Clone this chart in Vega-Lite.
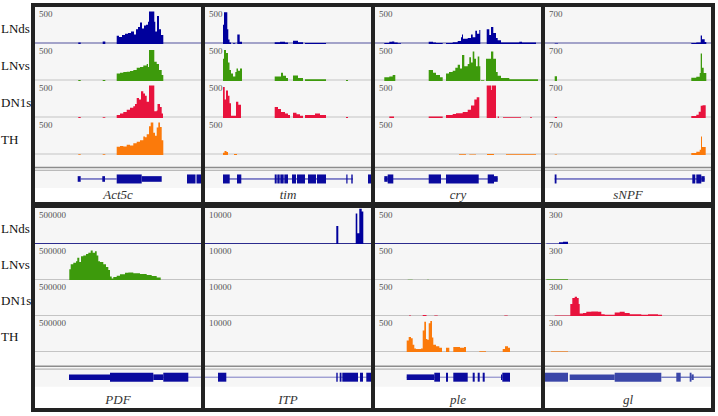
{
"$schema": "https://vega.github.io/schema/vega-lite/v6.json",
"padding": {"left": 1, "top": 3, "right": 0, "bottom": 0},
"background": "white",
"config": {"view": {"stroke": null, "fill": "#f6f6f6"}, "axis": {"disable": true}, "font": "Liberation Serif"},
"datasets": {
"cov": [
{"gene":"Act5c","track":"LNds","range":500},{"gene":"Act5c","track":"LNvs","range":500},{"gene":"Act5c","track":"DN1s","range":500},{"gene":"Act5c","track":"TH","range":500},
{"gene":"tim","track":"LNds","range":500},{"gene":"tim","track":"LNvs","range":500},{"gene":"tim","track":"DN1s","range":500},{"gene":"tim","track":"TH","range":500},
{"gene":"cry","track":"LNds","range":500},{"gene":"cry","track":"LNvs","range":500},{"gene":"cry","track":"DN1s","range":500},{"gene":"cry","track":"TH","range":500},
{"gene":"sNPF","track":"LNds","range":700},{"gene":"sNPF","track":"LNvs","range":700},{"gene":"sNPF","track":"DN1s","range":700},{"gene":"sNPF","track":"TH","range":700},
{"gene":"PDF","track":"LNds","range":500000},{"gene":"PDF","track":"LNvs","range":500000},{"gene":"PDF","track":"DN1s","range":500000},{"gene":"PDF","track":"TH","range":500000},
{"gene":"ITP","track":"LNds","range":10000},{"gene":"ITP","track":"LNvs","range":10000},{"gene":"ITP","track":"DN1s","range":10000},{"gene":"ITP","track":"TH","range":10000},
{"gene":"ple","track":"LNds","range":500},{"gene":"ple","track":"LNvs","range":500},{"gene":"ple","track":"DN1s","range":500},{"gene":"ple","track":"TH","range":500},
{"gene":"gl","track":"LNds","range":300},{"gene":"gl","track":"LNvs","range":300},{"gene":"gl","track":"DN1s","range":300},{"gene":"gl","track":"TH","range":300},

{"gene":"Act5c","track":"LNds","pos":43.3,"value":20},{"gene":"Act5c","track":"LNds","pos":45.7,"value":0},{"gene":"Act5c","track":"LNds","pos":67.7,"value":35},{"gene":"Act5c","track":"LNds","pos":70.3,"value":0},{"gene":"Act5c","track":"LNds","pos":81.7,"value":110},{"gene":"Act5c","track":"LNds","pos":84,"value":95},{"gene":"Act5c","track":"LNds","pos":87,"value":120},{"gene":"Act5c","track":"LNds","pos":90,"value":140},{"gene":"Act5c","track":"LNds","pos":93,"value":150},{"gene":"Act5c","track":"LNds","pos":96,"value":170},{"gene":"Act5c","track":"LNds","pos":99,"value":130},{"gene":"Act5c","track":"LNds","pos":101,"value":200},{"gene":"Act5c","track":"LNds","pos":103,"value":230},{"gene":"Act5c","track":"LNds","pos":105,"value":290},{"gene":"Act5c","track":"LNds","pos":107,"value":210},{"gene":"Act5c","track":"LNds","pos":109,"value":250},{"gene":"Act5c","track":"LNds","pos":111,"value":260},{"gene":"Act5c","track":"LNds","pos":113,"value":300},{"gene":"Act5c","track":"LNds","pos":114,"value":440},{"gene":"Act5c","track":"LNds","pos":119.3,"value":300},{"gene":"Act5c","track":"LNds","pos":120.3,"value":170},{"gene":"Act5c","track":"LNds","pos":122,"value":380},{"gene":"Act5c","track":"LNds","pos":124,"value":200},{"gene":"Act5c","track":"LNds","pos":126,"value":120},{"gene":"Act5c","track":"LNds","pos":128.3,"value":0},

{"gene":"Act5c","track":"LNvs","pos":43.3,"value":15},{"gene":"Act5c","track":"LNvs","pos":45.7,"value":0},{"gene":"Act5c","track":"LNvs","pos":67.7,"value":15},{"gene":"Act5c","track":"LNvs","pos":70.3,"value":0},{"gene":"Act5c","track":"LNvs","pos":81.7,"value":100},{"gene":"Act5c","track":"LNvs","pos":85,"value":110},{"gene":"Act5c","track":"LNvs","pos":88.3,"value":120},{"gene":"Act5c","track":"LNvs","pos":91.7,"value":125},{"gene":"Act5c","track":"LNvs","pos":95,"value":135},{"gene":"Act5c","track":"LNvs","pos":98.3,"value":150},{"gene":"Act5c","track":"LNvs","pos":101.7,"value":180},{"gene":"Act5c","track":"LNvs","pos":105,"value":190},{"gene":"Act5c","track":"LNvs","pos":108.3,"value":210},{"gene":"Act5c","track":"LNvs","pos":111.7,"value":230},{"gene":"Act5c","track":"LNvs","pos":113,"value":190},{"gene":"Act5c","track":"LNvs","pos":114,"value":420},{"gene":"Act5c","track":"LNvs","pos":119.3,"value":260},{"gene":"Act5c","track":"LNvs","pos":121.7,"value":230},{"gene":"Act5c","track":"LNvs","pos":124,"value":150},{"gene":"Act5c","track":"LNvs","pos":126.7,"value":80},{"gene":"Act5c","track":"LNvs","pos":128.3,"value":0},

{"gene":"Act5c","track":"DN1s","pos":43.3,"value":15},{"gene":"Act5c","track":"DN1s","pos":45.7,"value":0},{"gene":"Act5c","track":"DN1s","pos":67.7,"value":10},{"gene":"Act5c","track":"DN1s","pos":70.3,"value":0},{"gene":"Act5c","track":"DN1s","pos":81.7,"value":40},{"gene":"Act5c","track":"DN1s","pos":85,"value":60},{"gene":"Act5c","track":"DN1s","pos":88.3,"value":80},{"gene":"Act5c","track":"DN1s","pos":91.7,"value":110},{"gene":"Act5c","track":"DN1s","pos":95,"value":140},{"gene":"Act5c","track":"DN1s","pos":98.3,"value":160},{"gene":"Act5c","track":"DN1s","pos":100,"value":190},{"gene":"Act5c","track":"DN1s","pos":101.7,"value":270},{"gene":"Act5c","track":"DN1s","pos":104,"value":250},{"gene":"Act5c","track":"DN1s","pos":106,"value":360},{"gene":"Act5c","track":"DN1s","pos":108.3,"value":330},{"gene":"Act5c","track":"DN1s","pos":110,"value":300},{"gene":"Act5c","track":"DN1s","pos":111.7,"value":220},{"gene":"Act5c","track":"DN1s","pos":114,"value":440},{"gene":"Act5c","track":"DN1s","pos":119.3,"value":90},{"gene":"Act5c","track":"DN1s","pos":121.7,"value":100},{"gene":"Act5c","track":"DN1s","pos":122.5,"value":190},{"gene":"Act5c","track":"DN1s","pos":125,"value":150},{"gene":"Act5c","track":"DN1s","pos":126.7,"value":60},{"gene":"Act5c","track":"DN1s","pos":128,"value":0},

{"gene":"Act5c","track":"TH","pos":43.3,"value":10},{"gene":"Act5c","track":"TH","pos":45.7,"value":0},{"gene":"Act5c","track":"TH","pos":67.7,"value":10},{"gene":"Act5c","track":"TH","pos":70.3,"value":0},{"gene":"Act5c","track":"TH","pos":81.7,"value":110},{"gene":"Act5c","track":"TH","pos":85,"value":120},{"gene":"Act5c","track":"TH","pos":88.3,"value":115},{"gene":"Act5c","track":"TH","pos":91.7,"value":140},{"gene":"Act5c","track":"TH","pos":95,"value":130},{"gene":"Act5c","track":"TH","pos":98.3,"value":160},{"gene":"Act5c","track":"TH","pos":101.7,"value":180},{"gene":"Act5c","track":"TH","pos":105,"value":200},{"gene":"Act5c","track":"TH","pos":108.3,"value":250},{"gene":"Act5c","track":"TH","pos":110,"value":240},{"gene":"Act5c","track":"TH","pos":111.7,"value":280},{"gene":"Act5c","track":"TH","pos":114,"value":390},{"gene":"Act5c","track":"TH","pos":115.7,"value":440},{"gene":"Act5c","track":"TH","pos":118.3,"value":300},{"gene":"Act5c","track":"TH","pos":120,"value":260},{"gene":"Act5c","track":"TH","pos":121.7,"value":370},{"gene":"Act5c","track":"TH","pos":123.3,"value":440},{"gene":"Act5c","track":"TH","pos":125,"value":380},{"gene":"Act5c","track":"TH","pos":126.7,"value":200},{"gene":"Act5c","track":"TH","pos":128.3,"value":0},

{"gene":"tim","track":"LNds","pos":18,"value":260},{"gene":"tim","track":"LNds","pos":19,"value":430},{"gene":"tim","track":"LNds","pos":22.3,"value":200},{"gene":"tim","track":"LNds","pos":23.3,"value":60},{"gene":"tim","track":"LNds","pos":24.5,"value":20},{"gene":"tim","track":"LNds","pos":26,"value":0},{"gene":"tim","track":"LNds","pos":28,"value":10},{"gene":"tim","track":"LNds","pos":30.3,"value":0},{"gene":"tim","track":"LNds","pos":32.3,"value":130},{"gene":"tim","track":"LNds","pos":34.7,"value":30},{"gene":"tim","track":"LNds","pos":37,"value":0},{"gene":"tim","track":"LNds","pos":69.7,"value":25},{"gene":"tim","track":"LNds","pos":75,"value":30},{"gene":"tim","track":"LNds","pos":80,"value":20},{"gene":"tim","track":"LNds","pos":83,"value":0},{"gene":"tim","track":"LNds","pos":88,"value":45},{"gene":"tim","track":"LNds","pos":93,"value":25},{"gene":"tim","track":"LNds","pos":98,"value":0},{"gene":"tim","track":"LNds","pos":100,"value":12},{"gene":"tim","track":"LNds","pos":121,"value":0},

{"gene":"tim","track":"LNvs","pos":18,"value":300},{"gene":"tim","track":"LNvs","pos":19,"value":420},{"gene":"tim","track":"LNvs","pos":21,"value":380},{"gene":"tim","track":"LNvs","pos":23,"value":250},{"gene":"tim","track":"LNvs","pos":24.5,"value":150},{"gene":"tim","track":"LNvs","pos":26,"value":100},{"gene":"tim","track":"LNvs","pos":28,"value":60},{"gene":"tim","track":"LNvs","pos":30.3,"value":120},{"gene":"tim","track":"LNvs","pos":31.5,"value":170},{"gene":"tim","track":"LNvs","pos":33,"value":140},{"gene":"tim","track":"LNvs","pos":35,"value":170},{"gene":"tim","track":"LNvs","pos":37,"value":0},{"gene":"tim","track":"LNvs","pos":69.7,"value":60},{"gene":"tim","track":"LNvs","pos":76,"value":110},{"gene":"tim","track":"LNvs","pos":78,"value":70},{"gene":"tim","track":"LNvs","pos":81,"value":40},{"gene":"tim","track":"LNvs","pos":83,"value":0},{"gene":"tim","track":"LNvs","pos":88,"value":75},{"gene":"tim","track":"LNvs","pos":93,"value":40},{"gene":"tim","track":"LNvs","pos":98,"value":0},{"gene":"tim","track":"LNvs","pos":100,"value":25},{"gene":"tim","track":"LNvs","pos":121,"value":0},{"gene":"tim","track":"LNvs","pos":141,"value":15},{"gene":"tim","track":"LNvs","pos":143,"value":0},

{"gene":"tim","track":"DN1s","pos":18,"value":420},{"gene":"tim","track":"DN1s","pos":19.7,"value":250},{"gene":"tim","track":"DN1s","pos":21,"value":370},{"gene":"tim","track":"DN1s","pos":23,"value":300},{"gene":"tim","track":"DN1s","pos":24.5,"value":200},{"gene":"tim","track":"DN1s","pos":26,"value":30},{"gene":"tim","track":"DN1s","pos":31,"value":220},{"gene":"tim","track":"DN1s","pos":33.3,"value":180},{"gene":"tim","track":"DN1s","pos":36,"value":0},{"gene":"tim","track":"DN1s","pos":69.7,"value":150},{"gene":"tim","track":"DN1s","pos":73,"value":120},{"gene":"tim","track":"DN1s","pos":76,"value":80},{"gene":"tim","track":"DN1s","pos":80,"value":60},{"gene":"tim","track":"DN1s","pos":83,"value":40},{"gene":"tim","track":"DN1s","pos":85,"value":0},{"gene":"tim","track":"DN1s","pos":88,"value":70},{"gene":"tim","track":"DN1s","pos":91.5,"value":50},{"gene":"tim","track":"DN1s","pos":95,"value":30},{"gene":"tim","track":"DN1s","pos":98,"value":0},{"gene":"tim","track":"DN1s","pos":100,"value":40},{"gene":"tim","track":"DN1s","pos":110,"value":60},{"gene":"tim","track":"DN1s","pos":115,"value":40},{"gene":"tim","track":"DN1s","pos":121,"value":0},{"gene":"tim","track":"DN1s","pos":141,"value":15},{"gene":"tim","track":"DN1s","pos":143,"value":0},

{"gene":"tim","track":"TH","pos":18,"value":30},{"gene":"tim","track":"TH","pos":19.5,"value":55},{"gene":"tim","track":"TH","pos":21.5,"value":40},{"gene":"tim","track":"TH","pos":23,"value":0},{"gene":"tim","track":"TH","pos":29,"value":12},{"gene":"tim","track":"TH","pos":32,"value":0},

{"gene":"cry","track":"LNds","pos":9.3,"value":15},{"gene":"cry","track":"LNds","pos":14.3,"value":30},{"gene":"cry","track":"LNds","pos":17,"value":35},{"gene":"cry","track":"LNds","pos":19.3,"value":20},{"gene":"cry","track":"LNds","pos":22.7,"value":10},{"gene":"cry","track":"LNds","pos":26,"value":0},{"gene":"cry","track":"LNds","pos":53.7,"value":30},{"gene":"cry","track":"LNds","pos":58,"value":20},{"gene":"cry","track":"LNds","pos":61,"value":15},{"gene":"cry","track":"LNds","pos":67.7,"value":0},{"gene":"cry","track":"LNds","pos":71,"value":15},{"gene":"cry","track":"LNds","pos":77.7,"value":25},{"gene":"cry","track":"LNds","pos":82.7,"value":40},{"gene":"cry","track":"LNds","pos":86,"value":90},{"gene":"cry","track":"LNds","pos":87,"value":130},{"gene":"cry","track":"LNds","pos":88,"value":70},{"gene":"cry","track":"LNds","pos":92.7,"value":80},{"gene":"cry","track":"LNds","pos":96,"value":130},{"gene":"cry","track":"LNds","pos":97.7,"value":90},{"gene":"cry","track":"LNds","pos":100.3,"value":180},{"gene":"cry","track":"LNds","pos":102,"value":140},{"gene":"cry","track":"LNds","pos":104.3,"value":190},{"gene":"cry","track":"LNds","pos":105.3,"value":0},{"gene":"cry","track":"LNds","pos":111.7,"value":200},{"gene":"cry","track":"LNds","pos":114.3,"value":120},{"gene":"cry","track":"LNds","pos":116,"value":230},{"gene":"cry","track":"LNds","pos":118.3,"value":150},{"gene":"cry","track":"LNds","pos":121,"value":80},{"gene":"cry","track":"LNds","pos":122.7,"value":50},{"gene":"cry","track":"LNds","pos":126,"value":20},{"gene":"cry","track":"LNds","pos":144.3,"value":30},{"gene":"cry","track":"LNds","pos":147,"value":20},{"gene":"cry","track":"LNds","pos":161,"value":0},

{"gene":"cry","track":"LNvs","pos":9.3,"value":50},{"gene":"cry","track":"LNvs","pos":14.3,"value":60},{"gene":"cry","track":"LNvs","pos":17.7,"value":80},{"gene":"cry","track":"LNvs","pos":20.3,"value":0},{"gene":"cry","track":"LNvs","pos":53.7,"value":150},{"gene":"cry","track":"LNvs","pos":58,"value":110},{"gene":"cry","track":"LNvs","pos":61,"value":80},{"gene":"cry","track":"LNvs","pos":65,"value":50},{"gene":"cry","track":"LNvs","pos":67.7,"value":0},{"gene":"cry","track":"LNvs","pos":71,"value":100},{"gene":"cry","track":"LNvs","pos":74,"value":120},{"gene":"cry","track":"LNvs","pos":77.7,"value":140},{"gene":"cry","track":"LNvs","pos":80.3,"value":180},{"gene":"cry","track":"LNvs","pos":82.7,"value":220},{"gene":"cry","track":"LNvs","pos":85,"value":170},{"gene":"cry","track":"LNvs","pos":87,"value":350},{"gene":"cry","track":"LNvs","pos":89.3,"value":200},{"gene":"cry","track":"LNvs","pos":92.7,"value":230},{"gene":"cry","track":"LNvs","pos":94.3,"value":320},{"gene":"cry","track":"LNvs","pos":96,"value":250},{"gene":"cry","track":"LNvs","pos":97.7,"value":400},{"gene":"cry","track":"LNvs","pos":99.3,"value":300},{"gene":"cry","track":"LNvs","pos":101,"value":200},{"gene":"cry","track":"LNvs","pos":102.7,"value":330},{"gene":"cry","track":"LNvs","pos":104.3,"value":200},{"gene":"cry","track":"LNvs","pos":105.3,"value":0},{"gene":"cry","track":"LNvs","pos":106,"value":10},{"gene":"cry","track":"LNvs","pos":109.3,"value":0},{"gene":"cry","track":"LNvs","pos":111,"value":300},{"gene":"cry","track":"LNvs","pos":113.7,"value":300},{"gene":"cry","track":"LNvs","pos":116,"value":400},{"gene":"cry","track":"LNvs","pos":118.3,"value":300},{"gene":"cry","track":"LNvs","pos":121,"value":120},{"gene":"cry","track":"LNvs","pos":122.7,"value":70},{"gene":"cry","track":"LNvs","pos":126,"value":40},{"gene":"cry","track":"LNvs","pos":134.3,"value":25},{"gene":"cry","track":"LNvs","pos":163,"value":0},

{"gene":"cry","track":"DN1s","pos":14.3,"value":20},{"gene":"cry","track":"DN1s","pos":19,"value":0},{"gene":"cry","track":"DN1s","pos":53.7,"value":20},{"gene":"cry","track":"DN1s","pos":67.7,"value":0},{"gene":"cry","track":"DN1s","pos":71,"value":40},{"gene":"cry","track":"DN1s","pos":77.7,"value":55},{"gene":"cry","track":"DN1s","pos":81,"value":65},{"gene":"cry","track":"DN1s","pos":87.7,"value":80},{"gene":"cry","track":"DN1s","pos":92.7,"value":110},{"gene":"cry","track":"DN1s","pos":96,"value":170},{"gene":"cry","track":"DN1s","pos":99.3,"value":250},{"gene":"cry","track":"DN1s","pos":101.7,"value":280},{"gene":"cry","track":"DN1s","pos":104.3,"value":0},{"gene":"cry","track":"DN1s","pos":111.7,"value":440},{"gene":"cry","track":"DN1s","pos":116,"value":380},{"gene":"cry","track":"DN1s","pos":116.7,"value":440},{"gene":"cry","track":"DN1s","pos":121,"value":0},{"gene":"cry","track":"DN1s","pos":122.7,"value":20},{"gene":"cry","track":"DN1s","pos":124,"value":0},{"gene":"cry","track":"DN1s","pos":128,"value":10},{"gene":"cry","track":"DN1s","pos":146,"value":0},{"gene":"cry","track":"DN1s","pos":155,"value":10},{"gene":"cry","track":"DN1s","pos":157,"value":0},

{"gene":"cry","track":"TH","pos":84,"value":10},{"gene":"cry","track":"TH","pos":91,"value":0},{"gene":"cry","track":"TH","pos":94.3,"value":8},{"gene":"cry","track":"TH","pos":101,"value":0},{"gene":"cry","track":"TH","pos":112,"value":12},{"gene":"cry","track":"TH","pos":119,"value":0},{"gene":"cry","track":"TH","pos":131,"value":10},{"gene":"cry","track":"TH","pos":161,"value":0},

{"gene":"sNPF","track":"LNds","pos":9.7,"value":10},{"gene":"sNPF","track":"LNds","pos":13,"value":0},{"gene":"sNPF","track":"LNds","pos":146.3,"value":20},{"gene":"sNPF","track":"LNds","pos":151.3,"value":30},{"gene":"sNPF","track":"LNds","pos":155.7,"value":160},{"gene":"sNPF","track":"LNds","pos":157,"value":90},{"gene":"sNPF","track":"LNds","pos":159.7,"value":40},{"gene":"sNPF","track":"LNds","pos":161.3,"value":0},
{"gene":"sNPF","track":"LNvs","pos":9.7,"value":90},{"gene":"sNPF","track":"LNvs","pos":12,"value":0},{"gene":"sNPF","track":"LNvs","pos":146.3,"value":60},{"gene":"sNPF","track":"LNvs","pos":151.3,"value":80},{"gene":"sNPF","track":"LNvs","pos":154.7,"value":150},{"gene":"sNPF","track":"LNvs","pos":155.7,"value":520},{"gene":"sNPF","track":"LNvs","pos":157,"value":250},{"gene":"sNPF","track":"LNvs","pos":158.7,"value":150},{"gene":"sNPF","track":"LNvs","pos":161.3,"value":0},
{"gene":"sNPF","track":"DN1s","pos":9.7,"value":20},{"gene":"sNPF","track":"DN1s","pos":12,"value":0},{"gene":"sNPF","track":"DN1s","pos":146.3,"value":40},{"gene":"sNPF","track":"DN1s","pos":151.3,"value":60},{"gene":"sNPF","track":"DN1s","pos":153.7,"value":120},{"gene":"sNPF","track":"DN1s","pos":155.7,"value":230},{"gene":"sNPF","track":"DN1s","pos":157.5,"value":240},{"gene":"sNPF","track":"DN1s","pos":160.7,"value":0},
{"gene":"sNPF","track":"TH","pos":9.7,"value":8},{"gene":"sNPF","track":"TH","pos":12,"value":0},{"gene":"sNPF","track":"TH","pos":146.3,"value":40},{"gene":"sNPF","track":"TH","pos":151.3,"value":60},{"gene":"sNPF","track":"TH","pos":154.7,"value":100},{"gene":"sNPF","track":"TH","pos":156,"value":350},{"gene":"sNPF","track":"TH","pos":157,"value":150},{"gene":"sNPF","track":"TH","pos":160.7,"value":0},

{"gene":"PDF","track":"LNvs","pos":34.3,"value":150000},{"gene":"PDF","track":"LNvs","pos":35.7,"value":220000},{"gene":"PDF","track":"LNvs","pos":38.3,"value":240000},{"gene":"PDF","track":"LNvs","pos":41,"value":260000},{"gene":"PDF","track":"LNvs","pos":42.3,"value":310000},{"gene":"PDF","track":"LNvs","pos":44.3,"value":250000},{"gene":"PDF","track":"LNvs","pos":46,"value":330000},{"gene":"PDF","track":"LNvs","pos":48.3,"value":340000},{"gene":"PDF","track":"LNvs","pos":51,"value":360000},{"gene":"PDF","track":"LNvs","pos":53.3,"value":380000},{"gene":"PDF","track":"LNvs","pos":55.7,"value":410000},{"gene":"PDF","track":"LNvs","pos":57.7,"value":380000},{"gene":"PDF","track":"LNvs","pos":60,"value":400000},{"gene":"PDF","track":"LNvs","pos":61.7,"value":340000},{"gene":"PDF","track":"LNvs","pos":63.3,"value":260000},{"gene":"PDF","track":"LNvs","pos":65,"value":250000},{"gene":"PDF","track":"LNvs","pos":68.3,"value":220000},{"gene":"PDF","track":"LNvs","pos":71,"value":180000},{"gene":"PDF","track":"LNvs","pos":73.3,"value":140000},{"gene":"PDF","track":"LNvs","pos":75,"value":50000},{"gene":"PDF","track":"LNvs","pos":76.7,"value":20000},{"gene":"PDF","track":"LNvs","pos":78.3,"value":40000},{"gene":"PDF","track":"LNvs","pos":81.7,"value":60000},{"gene":"PDF","track":"LNvs","pos":85,"value":80000},{"gene":"PDF","track":"LNvs","pos":90,"value":100000},{"gene":"PDF","track":"LNvs","pos":93.3,"value":105000},{"gene":"PDF","track":"LNvs","pos":98.3,"value":95000},{"gene":"PDF","track":"LNvs","pos":105,"value":85000},{"gene":"PDF","track":"LNvs","pos":111.7,"value":70000},{"gene":"PDF","track":"LNvs","pos":116.7,"value":55000},{"gene":"PDF","track":"LNvs","pos":121.7,"value":35000},{"gene":"PDF","track":"LNvs","pos":125.7,"value":0},

{"gene":"ITP","track":"LNds","pos":131.3,"value":5000},{"gene":"ITP","track":"LNds","pos":133.3,"value":0},{"gene":"ITP","track":"LNds","pos":150.7,"value":8500},{"gene":"ITP","track":"LNds","pos":152.3,"value":3000},{"gene":"ITP","track":"LNds","pos":154.3,"value":9800},{"gene":"ITP","track":"LNds","pos":156.7,"value":9000},{"gene":"ITP","track":"LNds","pos":158.3,"value":0},

{"gene":"ple","track":"LNvs","pos":32.7,"value":5},{"gene":"ple","track":"LNvs","pos":37.7,"value":0},{"gene":"ple","track":"LNvs","pos":52,"value":4},{"gene":"ple","track":"LNvs","pos":54,"value":0},
{"gene":"ple","track":"DN1s","pos":34,"value":6},{"gene":"ple","track":"DN1s","pos":36,"value":0},{"gene":"ple","track":"DN1s","pos":47.7,"value":15},{"gene":"ple","track":"DN1s","pos":51,"value":8},{"gene":"ple","track":"DN1s","pos":52,"value":0},{"gene":"ple","track":"DN1s","pos":59.3,"value":6},{"gene":"ple","track":"DN1s","pos":62.7,"value":0},{"gene":"ple","track":"DN1s","pos":129.3,"value":8},{"gene":"ple","track":"DN1s","pos":132.7,"value":0},
{"gene":"ple","track":"TH","pos":31.7,"value":160},{"gene":"ple","track":"TH","pos":33.7,"value":210},{"gene":"ple","track":"TH","pos":36,"value":190},{"gene":"ple","track":"TH","pos":37.7,"value":100},{"gene":"ple","track":"TH","pos":39.3,"value":50},{"gene":"ple","track":"TH","pos":41,"value":40},{"gene":"ple","track":"TH","pos":46,"value":50},{"gene":"ple","track":"TH","pos":47.7,"value":300},{"gene":"ple","track":"TH","pos":49.3,"value":420},{"gene":"ple","track":"TH","pos":51,"value":180},{"gene":"ple","track":"TH","pos":52.3,"value":170},{"gene":"ple","track":"TH","pos":53.7,"value":400},{"gene":"ple","track":"TH","pos":55.3,"value":430},{"gene":"ple","track":"TH","pos":57,"value":200},{"gene":"ple","track":"TH","pos":58.3,"value":100},{"gene":"ple","track":"TH","pos":61,"value":80},{"gene":"ple","track":"TH","pos":64.3,"value":60},{"gene":"ple","track":"TH","pos":67,"value":0},{"gene":"ple","track":"TH","pos":71,"value":60},{"gene":"ple","track":"TH","pos":74.3,"value":0},{"gene":"ple","track":"TH","pos":78.3,"value":70},{"gene":"ple","track":"TH","pos":85,"value":60},{"gene":"ple","track":"TH","pos":89,"value":70},{"gene":"ple","track":"TH","pos":91,"value":0},{"gene":"ple","track":"TH","pos":104.3,"value":10},{"gene":"ple","track":"TH","pos":111,"value":0},{"gene":"ple","track":"TH","pos":127.7,"value":40},{"gene":"ple","track":"TH","pos":130,"value":80},{"gene":"ple","track":"TH","pos":133,"value":60},{"gene":"ple","track":"TH","pos":135,"value":0},

{"gene":"gl","track":"LNds","pos":1.3,"value":4},{"gene":"gl","track":"LNds","pos":14,"value":15},{"gene":"gl","track":"LNds","pos":18,"value":18},{"gene":"gl","track":"LNds","pos":23,"value":0},
{"gene":"gl","track":"LNvs","pos":1.3,"value":6},{"gene":"gl","track":"LNvs","pos":23,"value":0},
{"gene":"gl","track":"DN1s","pos":9.7,"value":5},{"gene":"gl","track":"DN1s","pos":25.3,"value":100},{"gene":"gl","track":"DN1s","pos":27.3,"value":150},{"gene":"gl","track":"DN1s","pos":29.7,"value":160},{"gene":"gl","track":"DN1s","pos":32,"value":150},{"gene":"gl","track":"DN1s","pos":33.7,"value":100},{"gene":"gl","track":"DN1s","pos":34.7,"value":20},{"gene":"gl","track":"DN1s","pos":38,"value":25},{"gene":"gl","track":"DN1s","pos":41.3,"value":35},{"gene":"gl","track":"DN1s","pos":46.3,"value":38},{"gene":"gl","track":"DN1s","pos":53,"value":35},{"gene":"gl","track":"DN1s","pos":56.3,"value":15},{"gene":"gl","track":"DN1s","pos":59.7,"value":10},{"gene":"gl","track":"DN1s","pos":68,"value":10},{"gene":"gl","track":"DN1s","pos":69.7,"value":30},{"gene":"gl","track":"DN1s","pos":74.7,"value":35},{"gene":"gl","track":"DN1s","pos":79.7,"value":25},{"gene":"gl","track":"DN1s","pos":84.7,"value":15},{"gene":"gl","track":"DN1s","pos":96.3,"value":10},{"gene":"gl","track":"DN1s","pos":103,"value":15},{"gene":"gl","track":"DN1s","pos":113,"value":10},{"gene":"gl","track":"DN1s","pos":117,"value":0},
{"gene":"gl","track":"TH","pos":6,"value":5},{"gene":"gl","track":"TH","pos":23,"value":0}
],
"model": [
{"gene":"Act5c","kind":"label"},{"gene":"tim","kind":"label"},{"gene":"cry","kind":"label"},{"gene":"sNPF","kind":"label"},{"gene":"PDF","kind":"label"},{"gene":"ITP","kind":"label"},{"gene":"ple","kind":"label"},{"gene":"gl","kind":"label"},
{"gene":"Act5c","kind":"utr","start":42.7,"end":45.7},{"gene":"Act5c","kind":"intron","start":45.7,"end":81.7},{"gene":"Act5c","kind":"utr","start":67.3,"end":70},{"gene":"Act5c","kind":"exon","start":81.7,"end":106.7},{"gene":"Act5c","kind":"utr","start":106.7,"end":126.7},{"gene":"Act5c","kind":"exon","start":152,"end":160.5},{"gene":"Act5c","kind":"exon","start":161.5,"end":166},
{"gene":"tim","kind":"intron","start":18,"end":148},{"gene":"tim","kind":"exon","start":18,"end":24.7},{"gene":"tim","kind":"exon","start":32,"end":36.3},{"gene":"tim","kind":"exon","start":69.7,"end":71.7},{"gene":"tim","kind":"exon","start":72.3,"end":74.7},{"gene":"tim","kind":"exon","start":75.3,"end":78.7},{"gene":"tim","kind":"exon","start":79.3,"end":83},{"gene":"tim","kind":"exon","start":87,"end":91},{"gene":"tim","kind":"exon","start":92,"end":100},{"gene":"tim","kind":"exon","start":103,"end":111},{"gene":"tim","kind":"exon","start":112,"end":121},{"gene":"tim","kind":"exon","start":141.3,"end":142.5},{"gene":"tim","kind":"exon","start":146.3,"end":147.7},{"gene":"tim","kind":"exon","start":163,"end":166},
{"gene":"cry","kind":"intron","start":9.3,"end":122.7},{"gene":"cry","kind":"utr","start":9.3,"end":12.7},{"gene":"cry","kind":"exon","start":12.7,"end":18.3},{"gene":"cry","kind":"exon","start":53.7,"end":66},{"gene":"cry","kind":"exon","start":71,"end":103.7},{"gene":"cry","kind":"exon","start":112.7,"end":119},{"gene":"cry","kind":"utr","start":119,"end":122.7},
{"gene":"sNPF","kind":"intron","start":9.7,"end":159.7},{"gene":"sNPF","kind":"exon","start":9.7,"end":11.5},{"gene":"sNPF","kind":"exon","start":147.3,"end":150.3},{"gene":"sNPF","kind":"exon","start":151.3,"end":156.3},{"gene":"sNPF","kind":"utr","start":156.3,"end":159.7},
{"gene":"PDF","kind":"intron","start":128,"end":166},{"gene":"PDF","kind":"utr","start":34,"end":75},{"gene":"PDF","kind":"exon","start":75,"end":118.3},{"gene":"PDF","kind":"utr","start":118.3,"end":128.3},{"gene":"PDF","kind":"exon","start":128.3,"end":153.3},
{"gene":"ITP","kind":"intron","start":0,"end":166},{"gene":"ITP","kind":"exon","start":13,"end":21.3},{"gene":"ITP","kind":"exon","start":131.3,"end":132.7},{"gene":"ITP","kind":"exon","start":134.7,"end":136.5},{"gene":"ITP","kind":"exon","start":137.3,"end":153},{"gene":"ITP","kind":"exon","start":155,"end":158},{"gene":"ITP","kind":"exon","start":161.3,"end":166},
{"gene":"ple","kind":"intron","start":31.7,"end":135},{"gene":"ple","kind":"utr","start":31.7,"end":59.3},{"gene":"ple","kind":"exon","start":59.3,"end":65},{"gene":"ple","kind":"exon","start":71,"end":73},{"gene":"ple","kind":"exon","start":78.3,"end":92.7},{"gene":"ple","kind":"exon","start":97.7,"end":99.7},{"gene":"ple","kind":"exon","start":102.7,"end":104.7},{"gene":"ple","kind":"exon","start":107.7,"end":109.7},{"gene":"ple","kind":"utr","start":126,"end":127.3},{"gene":"ple","kind":"exon","start":127.3,"end":135},
{"gene":"gl","kind":"intron","start":116.3,"end":166},{"gene":"gl","kind":"exon","start":0,"end":23},{"gene":"gl","kind":"utr","start":24.7,"end":69.7},{"gene":"gl","kind":"exon","start":69.7,"end":116.3},{"gene":"gl","kind":"exon","start":131.3,"end":135.7},{"gene":"gl","kind":"exon","start":144.7,"end":146.5},{"gene":"gl","kind":"utr","start":146.5,"end":148.7}
]
},
"spacing": 0,
"vconcat": [
{
"data": {"name": "cov"},
"transform": [{"filter": {"field": "gene", "oneOf": ["Act5c", "tim", "cry", "sNPF"]}}],
"facet": {"row": {"field": "track", "sort": ["LNds", "LNvs", "DN1s", "TH"], "header": null}, "column": {"field": "gene", "sort": ["Act5c", "tim", "cry", "sNPF"], "header": null}},
"spacing": {"row": 0, "column": 4},
"bounds": "flush",
"resolve": {"scale": {"y": "independent"}},
"spec": {"width": 166, "height": 37, "layer": [
{"transform": [{"filter": "isValid(datum.range)"}], "mark": {"type": "rule", "yOffset": -1}, "encoding": {"y": {"datum": 0, "type": "quantitative", "scale": {"nice": false}, "axis": null}, "color": {"condition": {"test": "datum.track==='LNds'", "value": "#a3a3c9"}, "value": "#c4c4c4"}, "strokeWidth": {"condition": {"test": "datum.track==='LNds'", "value": 2}, "value": 1}}},
{"transform": [{"filter": "isValid(datum.value)"}], "mark": {"type": "area", "interpolate": "step-after"}, "encoding": {"x": {"field": "pos", "type": "quantitative", "scale": {"domain": [0, 166]}, "axis": null}, "y": {"field": "value", "type": "quantitative", "scale": {"nice": false}, "axis": null, "stack": null}, "color": {"field": "track", "type": "nominal", "scale": {"domain": ["LNds", "LNvs", "DN1s", "TH"], "range": ["#00009c", "#3d9a0c", "#e8133d", "#fb7a0b"]}, "legend": null}}},
{"transform": [{"filter": "isValid(datum.range)"}], "mark": {"type": "text", "align": "left", "baseline": "top", "dx": 4, "dy": 3, "fontSize": 9, "color": "#555555"}, "encoding": {"x": {"datum": 0, "type": "quantitative", "scale": {"domain": [0, 166]}}, "y": {"field": "range", "type": "quantitative", "scale": {"nice": false}}, "text": {"field": "range", "type": "quantitative", "format": "d"}}},
{"transform": [{"filter": "isValid(datum.range) && datum.gene==='Act5c'"}], "mark": {"type": "text", "align": "left", "baseline": "middle", "dx": -34, "dy": 22, "fontSize": 13, "color": "#111111"}, "encoding": {"x": {"datum": 0, "type": "quantitative", "scale": {"domain": [0, 166]}}, "y": {"field": "range", "type": "quantitative", "scale": {"nice": false}}, "text": {"field": "track"}}},
{"transform": [{"filter": "isValid(datum.range)"}], "mark": {"type": "rect", "color": "#222222"}, "encoding": {"x": {"datum": -4, "type": "quantitative", "scale": {"domain": [0, 166]}}, "x2": {"datum": 0}}},
{"transform": [{"filter": "isValid(datum.range)"}], "mark": {"type": "rect", "color": "#222222"}, "encoding": {"x": {"datum": 166, "type": "quantitative", "scale": {"domain": [0, 166]}}, "x2": {"datum": 170}}},
{"transform": [{"filter": "isValid(datum.range) && datum.track==='LNds'"}], "mark": {"type": "rect", "color": "#222222", "yOffset": -4}, "encoding": {"y": {"field": "range", "type": "quantitative", "scale": {"nice": false}}, "y2": {"field": "range"}, "x": {"datum": -4, "type": "quantitative", "scale": {"domain": [0, 166]}}, "x2": {"datum": 170}}}
]}
},
{
"data": {"name": "model"},
"transform": [{"filter": {"field": "gene", "oneOf": ["Act5c", "tim", "cry", "sNPF"]}}],
"facet": {"column": {"field": "gene", "sort": ["Act5c", "tim", "cry", "sNPF"], "header": null}},
"spacing": 4,
"bounds": "flush",
"spec": {"width": 166, "height": 47, "layer": [
{"transform": [{"filter": "datum.kind==='label' && datum.gene==='Act5c'"}], "mark": {"type": "rect", "color": "white"}, "encoding": {"x": {"datum": -34, "type": "quantitative", "scale": {"domain": [0, 166]}}, "x2": {"datum": 0}, "y": {"datum": 0, "type": "quantitative", "scale": {"domain": [0, 1], "nice": false}}, "y2": {"datum": 1}}},
{"transform": [{"filter": "datum.kind==='label'"}], "mark": {"type": "rect", "color": "white"}, "encoding": {"x": {"datum": 0, "type": "quantitative", "scale": {"domain": [0, 166]}}, "x2": {"datum": 166}, "y": {"datum": 0, "type": "quantitative", "scale": {"domain": [0, 1], "nice": false}}, "y2": {"datum": 0.3}}},
{"transform": [{"filter": "datum.kind==='label'"}], "mark": {"type": "rule", "color": "#8c8c8c", "strokeWidth": 1.5}, "encoding": {"y": {"datum": 0.735, "type": "quantitative", "scale": {"domain": [0, 1], "nice": false}}}},
{"transform": [{"filter": "datum.kind==='label'"}], "mark": {"type": "rule", "color": "#a8a8a8", "strokeWidth": 1}, "encoding": {"y": {"datum": 0.675, "type": "quantitative", "scale": {"domain": [0, 1], "nice": false}}}},
{"transform": [{"filter": "datum.kind==='intron'"}], "mark": {"type": "rule", "color": "#1c1ca0", "strokeWidth": 1}, "encoding": {"x": {"field": "start", "type": "quantitative", "scale": {"domain": [0, 166]}}, "x2": {"field": "end"}, "y": {"datum": 0.49, "type": "quantitative", "scale": {"domain": [0, 1], "nice": false}}}},
{"transform": [{"filter": "datum.kind==='utr'"}], "mark": {"type": "rect", "color": "#0a0a9e"}, "encoding": {"x": {"field": "start", "type": "quantitative", "scale": {"domain": [0, 166]}}, "x2": {"field": "end"}, "y": {"datum": 0.43, "type": "quantitative", "scale": {"domain": [0, 1], "nice": false}}, "y2": {"datum": 0.55}}},
{"transform": [{"filter": "datum.kind==='exon'"}], "mark": {"type": "rect", "color": "#0a0a9e"}, "encoding": {"x": {"field": "start", "type": "quantitative", "scale": {"domain": [0, 166]}}, "x2": {"field": "end"}, "y": {"datum": 0.394, "type": "quantitative", "scale": {"domain": [0, 1], "nice": false}}, "y2": {"datum": 0.586}}},
{"transform": [{"filter": "datum.kind==='label'"}], "mark": {"type": "text", "fontSize": 13, "fontStyle": "italic", "color": "#333333", "baseline": "middle", "align": "center"}, "encoding": {"x": {"datum": 83, "type": "quantitative", "scale": {"domain": [0, 166]}}, "y": {"datum": 0.14, "type": "quantitative", "scale": {"domain": [0, 1], "nice": false}}, "text": {"field": "gene"}}},
{"transform": [{"filter": "datum.kind==='label'"}], "mark": {"type": "rect", "color": "#222222"}, "encoding": {"x": {"datum": -4, "type": "quantitative", "scale": {"domain": [0, 166]}}, "x2": {"datum": 0}}},
{"transform": [{"filter": "datum.kind==='label'"}], "mark": {"type": "rect", "color": "#222222"}, "encoding": {"x": {"datum": 166, "type": "quantitative", "scale": {"domain": [0, 166]}}, "x2": {"datum": 170}}},
{"transform": [{"filter": "datum.kind==='label'"}], "mark": {"type": "rect", "color": "#222222", "y2Offset": 6}, "encoding": {"y": {"datum": 0, "type": "quantitative", "scale": {"domain": [0, 1], "nice": false}}, "y2": {"datum": 0}, "x": {"datum": -4, "type": "quantitative", "scale": {"domain": [0, 166]}}, "x2": {"datum": 170}}}
]}
},
{
"data": {"name": "cov"},
"transform": [{"filter": {"field": "gene", "oneOf": ["PDF", "ITP", "ple", "gl"]}}],
"facet": {"row": {"field": "track", "sort": ["LNds", "LNvs", "DN1s", "TH"], "header": null}, "column": {"field": "gene", "sort": ["PDF", "ITP", "ple", "gl"], "header": null}},
"spacing": {"row": 0, "column": 4},
"bounds": "flush",
"resolve": {"scale": {"y": "independent"}},
"spec": {"width": 166, "height": 36, "layer": [
{"transform": [{"filter": "isValid(datum.range)"}], "mark": {"type": "rule", "yOffset": -0.5}, "encoding": {"y": {"datum": 0, "type": "quantitative", "scale": {"nice": false}, "axis": null}, "color": {"condition": {"test": "datum.track==='LNds' && datum.gene!=='gl'", "value": "#2c2c8e"}, "value": "#c4c4c4"}, "strokeWidth": {"value": 1}}},
{"transform": [{"filter": "isValid(datum.value)"}], "mark": {"type": "area", "interpolate": "step-after"}, "encoding": {"x": {"field": "pos", "type": "quantitative", "scale": {"domain": [0, 166]}, "axis": null}, "y": {"field": "value", "type": "quantitative", "scale": {"nice": false}, "axis": null, "stack": null}, "color": {"field": "track", "type": "nominal", "scale": {"domain": ["LNds", "LNvs", "DN1s", "TH"], "range": ["#00009c", "#3d9a0c", "#e8133d", "#fb7a0b"]}, "legend": null}}},
{"transform": [{"filter": "isValid(datum.range)"}], "mark": {"type": "text", "align": "left", "baseline": "top", "dx": 4, "dy": 3, "fontSize": 9, "color": "#555555"}, "encoding": {"x": {"datum": 0, "type": "quantitative", "scale": {"domain": [0, 166]}}, "y": {"field": "range", "type": "quantitative", "scale": {"nice": false}}, "text": {"field": "range", "type": "quantitative", "format": "d"}}},
{"transform": [{"filter": "isValid(datum.range) && datum.gene==='PDF'"}], "mark": {"type": "text", "align": "left", "baseline": "middle", "dx": -34, "dy": 21, "fontSize": 13, "color": "#111111"}, "encoding": {"x": {"datum": 0, "type": "quantitative", "scale": {"domain": [0, 166]}}, "y": {"field": "range", "type": "quantitative", "scale": {"nice": false}}, "text": {"field": "track"}}},
{"transform": [{"filter": "isValid(datum.range)"}], "mark": {"type": "rect", "color": "#222222"}, "encoding": {"x": {"datum": -4, "type": "quantitative", "scale": {"domain": [0, 166]}}, "x2": {"datum": 0}}},
{"transform": [{"filter": "isValid(datum.range)"}], "mark": {"type": "rect", "color": "#222222"}, "encoding": {"x": {"datum": 166, "type": "quantitative", "scale": {"domain": [0, 166]}}, "x2": {"datum": 170}}}
]}
},
{
"data": {"name": "model"},
"transform": [{"filter": {"field": "gene", "oneOf": ["PDF", "ITP", "ple", "gl"]}}],
"facet": {"column": {"field": "gene", "sort": ["PDF", "ITP", "ple", "gl"], "header": null}},
"spacing": 4,
"bounds": "flush",
"spec": {"width": 166, "height": 56, "layer": [
{"transform": [{"filter": "datum.kind==='label' && datum.gene==='PDF'"}], "mark": {"type": "rect", "color": "white"}, "encoding": {"x": {"datum": -34, "type": "quantitative", "scale": {"domain": [0, 166]}}, "x2": {"datum": 0}, "y": {"datum": 0, "type": "quantitative", "scale": {"domain": [0, 1], "nice": false}}, "y2": {"datum": 1}}},
{"transform": [{"filter": "datum.kind==='label'"}], "mark": {"type": "rect", "color": "white"}, "encoding": {"x": {"datum": 0, "type": "quantitative", "scale": {"domain": [0, 166]}}, "x2": {"datum": 166}, "y": {"datum": 0, "type": "quantitative", "scale": {"domain": [0, 1], "nice": false}}, "y2": {"datum": 0.38}}},
{"transform": [{"filter": "datum.kind==='label'"}], "mark": {"type": "rule", "color": "#8c8c8c", "strokeWidth": 1.5}, "encoding": {"y": {"datum": 0.745, "type": "quantitative", "scale": {"domain": [0, 1], "nice": false}}}},
{"transform": [{"filter": "datum.kind==='label'"}], "mark": {"type": "rule", "color": "#a8a8a8", "strokeWidth": 1}, "encoding": {"y": {"datum": 0.695, "type": "quantitative", "scale": {"domain": [0, 1], "nice": false}}}},
{"transform": [{"filter": "datum.kind==='intron'"}], "mark": {"type": "rule", "strokeWidth": 1}, "encoding": {"x": {"field": "start", "type": "quantitative", "scale": {"domain": [0, 166]}}, "x2": {"field": "end"}, "y": {"datum": 0.55, "type": "quantitative", "scale": {"domain": [0, 1], "nice": false}}, "color": {"condition": {"test": "datum.gene==='gl'", "value": "#3a46a8"}, "value": "#7b7bc4"}}},
{"transform": [{"filter": "datum.kind==='utr'"}], "mark": {"type": "rect"}, "encoding": {"x": {"field": "start", "type": "quantitative", "scale": {"domain": [0, 166]}}, "x2": {"field": "end"}, "y": {"datum": 0.5, "type": "quantitative", "scale": {"domain": [0, 1], "nice": false}}, "y2": {"datum": 0.6}, "color": {"condition": {"test": "datum.gene==='gl'", "value": "#3a46a8"}, "value": "#0a0a9e"}}},
{"transform": [{"filter": "datum.kind==='exon'"}], "mark": {"type": "rect"}, "encoding": {"x": {"field": "start", "type": "quantitative", "scale": {"domain": [0, 166]}}, "x2": {"field": "end"}, "y": {"datum": 0.47, "type": "quantitative", "scale": {"domain": [0, 1], "nice": false}}, "y2": {"datum": 0.63}, "color": {"condition": {"test": "datum.gene==='gl'", "value": "#3a46a8"}, "value": "#0a0a9e"}}},
{"transform": [{"filter": "datum.kind==='label'"}], "mark": {"type": "text", "fontSize": 13, "fontStyle": "italic", "color": "#333333", "baseline": "middle", "align": "center"}, "encoding": {"x": {"datum": 83, "type": "quantitative", "scale": {"domain": [0, 166]}}, "y": {"datum": 0.15, "type": "quantitative", "scale": {"domain": [0, 1], "nice": false}}, "text": {"field": "gene"}}},
{"transform": [{"filter": "datum.kind==='label'"}], "mark": {"type": "rect", "color": "#222222"}, "encoding": {"x": {"datum": -4, "type": "quantitative", "scale": {"domain": [0, 166]}}, "x2": {"datum": 0}}},
{"transform": [{"filter": "datum.kind==='label'"}], "mark": {"type": "rect", "color": "#222222"}, "encoding": {"x": {"datum": 166, "type": "quantitative", "scale": {"domain": [0, 166]}}, "x2": {"datum": 170}}},
{"transform": [{"filter": "datum.kind==='label'"}], "mark": {"type": "rect", "color": "#222222", "y2Offset": 4}, "encoding": {"y": {"datum": 0, "type": "quantitative", "scale": {"domain": [0, 1], "nice": false}}, "y2": {"datum": 0}, "x": {"datum": -4, "type": "quantitative", "scale": {"domain": [0, 166]}}, "x2": {"datum": 170}}}
]}
}
]
}
